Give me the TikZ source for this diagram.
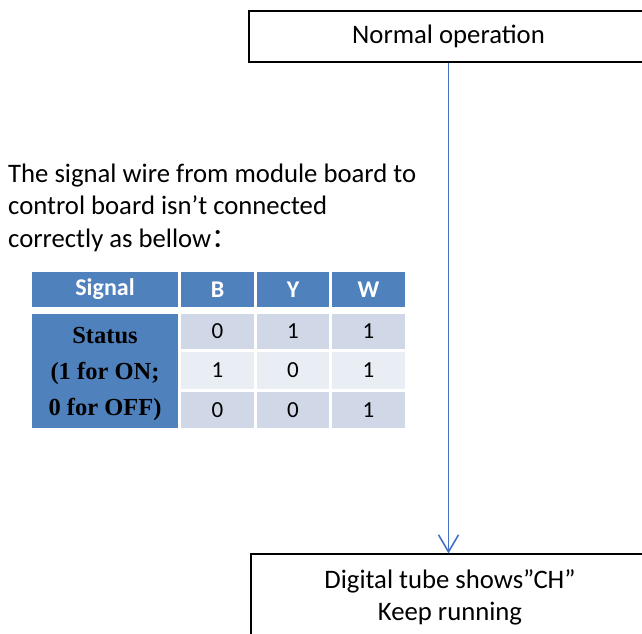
\documentclass[tikz,border=0pt]{standalone}
\usepackage{fontspec}
\setmainfont{Carlito}
\newfontfamily\timesfont{Liberation Serif}
\newfontfamily\cjkfont{Noto Sans CJK SC}
\usetikzlibrary{arrows.meta}
\definecolor{hdrblue}{RGB}{79,129,189}
\definecolor{celldark}{RGB}{208,216,232}
\definecolor{celllight}{RGB}{233,237,244}
\definecolor{flowblue}{RGB}{68,114,196}
\tikzset{
  stepbox/.style={draw, line width=1.2pt, inner sep=0pt, align=center,
    font=\fontsize{26.7}{32}\selectfont},
  hdrcell/.style={fill=hdrblue, inner sep=0pt, text=white,
    font=\fontsize{24}{26}\selectfont\bfseries},
  numcell/.style={inner sep=0pt, font=\fontsize{23}{24}\selectfont},
}
\begin{document}
\begin{tikzpicture}[x=1pt, y=-1pt]
\useasboundingbox (0,0) rectangle (642,633);
\clip (0,0) rectangle (642,633);

% flow boxes
\node (normal) at (448.5,36.5) [stepbox, minimum width=399, minimum height=51] {Normal operation};
\node (tube) at (450,597) [stepbox, minimum width=398, minimum height=86] {Digital tube shows”CH”\\Keep running};

\draw [flowblue, line width=1.6pt, -{Straight Barb[length=17pt, width=20pt, line width=1.6pt]}]
  (normal.south) -- (normal.south |- tube.north);

% note
\node (note) at (8,247) [anchor=base west, inner sep=0pt, align=left,
  font=\fontsize{26.7}{32.5}\selectfont]
  {The signal wire from module board to\\control board isn't connected\\correctly as bellow{\cjkfont ：}};

% table header
\node (sig) at (105,289.5) [hdrcell, minimum width=146, minimum height=35] {Signal};
\node (hB) at (217.5,289.5) [hdrcell, minimum width=73, minimum height=35] {B};
\node (hY) at (293,289.5) [hdrcell, minimum width=72, minimum height=35] {Y};
\node (hW) at (368.5,289.5) [hdrcell, minimum width=73, minimum height=35] {W};

% status cell
\node (status) at (105,371) [fill=hdrblue, inner sep=0pt, minimum width=146, minimum height=114] {};
\node (statustxt) at (status.center) [yshift=-3pt, inner sep=0pt, align=center,
  font=\timesfont\fontsize{24.5}{36}\selectfont\bfseries]
  {Status\\(1 for ON;\\0 for OFF)};

% values
\foreach \cy/\h/\col/\b/\y/\w [count=\r] in {331.5/35/celldark/0/1/1, 370.5/37/celllight/1/0/1, 410/36/celldark/0/0/1}{
  \node (b\r) at (217.5,\cy) [numcell, fill=\col, minimum width=73, minimum height=\h] {\b};
  \node (y\r) at (293,\cy) [numcell, fill=\col, minimum width=72, minimum height=\h] {\y};
  \node (w\r) at (368.5,\cy) [numcell, fill=\col, minimum width=73, minimum height=\h] {\w};
}
\end{tikzpicture}
\end{document}
